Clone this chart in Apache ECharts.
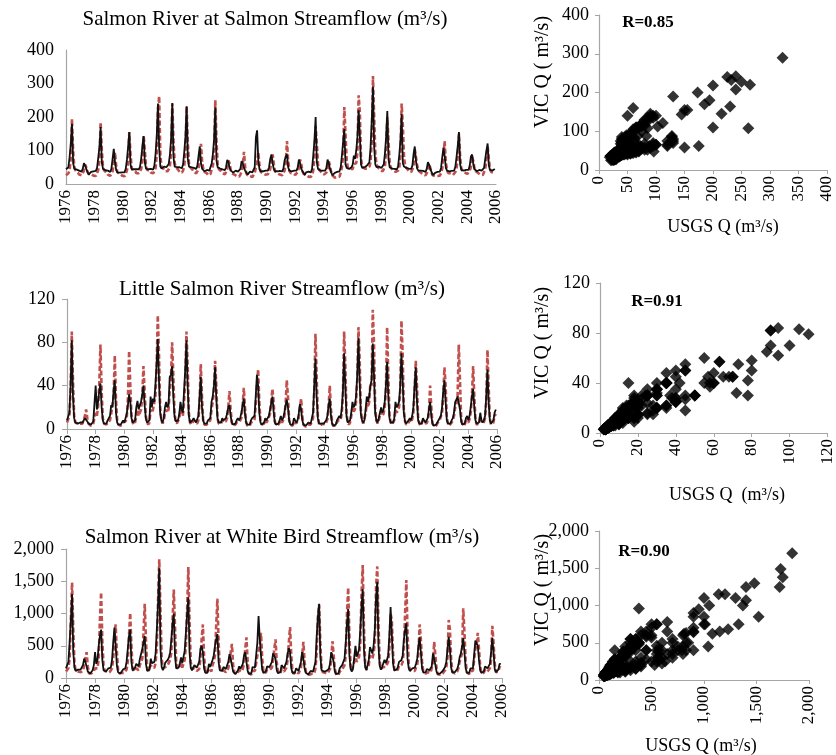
<!DOCTYPE html>
<html>
<head>
<meta charset="utf-8">
<script src="https://cdn.jsdelivr.net/npm/echarts/dist/echarts.min.js"></script>
<style>
  html, body { margin: 0; padding: 0; background: #fff; }
  #chart { width: 836px; height: 755px; }
</style>
</head>
<body>
<div id="chart"></div>
<script>
// Monthly streamflow, Jan 1976 - Dec 2005, one row per year (m3/s).
const START_YEAR = 1976;

// Salmon River at Salmon
const salmonVic = [
  44, 42, 50, 80, 120, 180, 62, 45, 42, 43, 42, 40,
  38, 37, 45, 62, 55, 45, 36, 28, 27, 36, 40, 38,
  40, 39, 48, 78, 110, 170, 65, 45, 40, 41, 42, 40,
  38, 36, 45, 75, 105, 65, 42, 35, 33, 34, 36, 35,
  36, 35, 45, 72, 110, 155, 58, 44, 40, 44, 46, 44,
  42, 44, 52, 78, 115, 143, 65, 46, 42, 44, 46, 45,
  44, 43, 55, 90, 145, 240, 108, 52, 46, 50, 52, 50,
  50, 52, 60, 88, 135, 242, 80, 52, 48, 50, 52, 50,
  48, 47, 58, 95, 140, 232, 75, 52, 48, 50, 50, 48,
  46, 45, 55, 85, 112, 62, 45, 40, 38, 40, 42, 40,
  40, 45, 62, 90, 135, 228, 70, 50, 45, 46, 45, 44,
  42, 41, 50, 72, 65, 48, 40, 36, 34, 38, 40, 39,
  37, 36, 45, 68, 62, 48, 40, 34, 28, 28, 37, 36,
  35, 36, 50, 140, 160, 70, 44, 38, 36, 38, 40, 40,
  40, 40, 50, 75, 88, 62, 44, 38, 36, 38, 40, 39,
  38, 38, 46, 70, 82, 88, 50, 40, 36, 38, 40, 40,
  39, 40, 50, 73, 60, 45, 38, 33, 27, 35, 38, 37,
  36, 35, 45, 85, 130, 200, 65, 45, 40, 40, 41, 40,
  40, 40, 48, 73, 62, 45, 35, 26, 25, 33, 36, 36,
  36, 38, 50, 85, 125, 164, 58, 48, 44, 45, 48, 50,
  58, 85, 75, 100, 140, 220, 145, 58, 48, 48, 50, 52,
  55, 56, 65, 110, 190, 290, 110, 58, 50, 50, 52, 50,
  48, 47, 58, 90, 140, 218, 75, 50, 45, 46, 46, 45,
  44, 44, 52, 85, 130, 208, 62, 52, 48, 48, 48, 46,
  45, 45, 55, 90, 112, 68, 46, 40, 38, 40, 40, 39,
  37, 36, 45, 65, 58, 45, 36, 27, 26, 33, 36, 36,
  36, 37, 48, 80, 108, 85, 48, 40, 36, 38, 40, 39,
  38, 40, 52, 82, 115, 155, 58, 42, 38, 40, 42, 42,
  40, 42, 55, 82, 88, 60, 44, 40, 38, 40, 42, 41,
  40, 39, 48, 75, 100, 121, 55, 42, 38, 40, 42, 45
];
const salmonUsgs = [
  26, 26, 32, 40, 75, 194, 95, 50, 40, 38, 34, 28,
  26, 26, 32, 40, 58, 50, 36, 30, 28, 30, 30, 25,
  24, 24, 32, 42, 70, 185, 100, 50, 40, 38, 34, 28,
  25, 24, 30, 38, 60, 95, 55, 35, 30, 30, 30, 25,
  24, 23, 30, 40, 65, 155, 90, 48, 40, 40, 38, 32,
  30, 32, 38, 45, 72, 145, 100, 52, 42, 42, 40, 34,
  32, 32, 38, 48, 90, 225, 262, 85, 52, 48, 44, 38,
  36, 38, 44, 52, 95, 240, 130, 62, 50, 46, 42, 36,
  34, 34, 40, 55, 90, 232, 120, 60, 50, 46, 42, 36,
  34, 32, 38, 46, 75, 120, 65, 44, 36, 34, 32, 26,
  26, 30, 45, 55, 85, 250, 130, 58, 44, 42, 38, 32,
  30, 29, 36, 45, 70, 62, 40, 32, 28, 28, 28, 24,
  22, 22, 28, 38, 55, 96, 50, 32, 26, 24, 24, 21,
  21, 22, 32, 50, 60, 95, 55, 36, 32, 32, 32, 28,
  28, 29, 36, 45, 68, 88, 60, 38, 33, 32, 32, 28,
  26, 26, 32, 40, 62, 128, 70, 40, 33, 32, 32, 28,
  27, 28, 36, 48, 73, 58, 38, 30, 26, 26, 26, 22,
  21, 21, 28, 40, 80, 173, 120, 58, 42, 38, 34, 30,
  28, 28, 34, 44, 68, 55, 36, 26, 21, 19, 21, 21,
  20, 22, 34, 50, 85, 230, 150, 70, 48, 44, 46, 42,
  44, 60, 58, 62, 95, 265, 215, 75, 52, 48, 46, 44,
  46, 48, 52, 65, 130, 322, 200, 90, 58, 50, 48, 42,
  38, 38, 44, 52, 100, 200, 130, 62, 48, 44, 41, 36,
  36, 36, 40, 48, 85, 240, 175, 80, 52, 48, 44, 38,
  36, 36, 44, 55, 103, 80, 55, 40, 36, 34, 32, 28,
  27, 26, 32, 40, 60, 48, 34, 26, 23, 24, 26, 24,
  24, 25, 32, 46, 85, 128, 65, 40, 33, 32, 31, 27,
  27, 28, 36, 48, 80, 150, 80, 46, 38, 36, 34, 30,
  30, 32, 40, 50, 83, 68, 46, 38, 34, 33, 32, 28,
  28, 27, 32, 44, 75, 112, 75, 44, 36, 34, 34, 34
];

// Little Salmon River
const littleVic = [
  8, 9, 15, 40, 82, 30, 10, 6, 5, 5, 6, 6,
  5, 6, 8, 10, 9, 7, 5, 4, 4, 5, 7, 8,
  40, 18, 25, 35, 42, 20, 8, 5, 4, 5, 8, 10,
  12, 22, 20, 35, 45, 15, 6, 4, 3, 4, 6, 8,
  6, 10, 14, 22, 32, 25, 10, 6, 5, 8, 20, 26,
  18, 22, 25, 32, 40, 22, 10, 6, 5, 8, 30, 20,
  28, 25, 40, 60, 83, 45, 15, 8, 6, 10, 20, 25,
  20, 22, 48, 50, 58, 30, 12, 7, 6, 8, 14, 25,
  18, 15, 35, 55, 82, 40, 12, 6, 5, 8, 10, 8,
  6, 7, 12, 30, 48, 20, 8, 5, 4, 5, 8, 8,
  10, 25, 30, 40, 57, 28, 10, 6, 5, 6, 10, 8,
  7, 10, 14, 20, 22, 12, 6, 4, 4, 5, 8, 10,
  8, 10, 15, 22, 28, 14, 6, 4, 3, 4, 8, 10,
  10, 12, 30, 50, 40, 15, 6, 4, 4, 6, 10, 8,
  10, 12, 18, 24, 30, 16, 6, 4, 4, 5, 8, 12,
  8, 10, 15, 22, 27, 20, 8, 4, 3, 4, 10, 8,
  6, 8, 14, 23, 18, 8, 4, 3, 3, 4, 6, 6,
  5, 6, 15, 40, 65, 30, 10, 5, 4, 5, 6, 5,
  5, 8, 12, 22, 28, 12, 5, 3, 3, 4, 8, 10,
  12, 10, 18, 35, 70, 40, 12, 6, 5, 8, 15, 25,
  20, 22, 30, 50, 84, 45, 14, 8, 6, 8, 18, 30,
  25, 30, 40, 45, 79, 50, 15, 8, 6, 10, 15, 20,
  15, 18, 25, 40, 62, 30, 10, 6, 5, 6, 10, 25,
  20, 22, 25, 40, 70, 45, 15, 7, 5, 6, 8, 10,
  8, 12, 20, 40, 57, 25, 8, 5, 4, 5, 10, 8,
  6, 7, 10, 18, 25, 12, 5, 3, 3, 4, 6, 7,
  10, 12, 20, 35, 45, 25, 8, 5, 4, 5, 8, 10,
  15, 25, 27, 30, 30, 18, 7, 4, 3, 5, 10, 12,
  8, 12, 20, 30, 37, 20, 8, 5, 4, 6, 15, 8,
  6, 8, 12, 30, 55, 25, 8, 5, 4, 8, 15, 18
];
const littleUsgs = [
  6, 7, 12, 35, 90, 45, 12, 6, 5, 5, 5, 5,
  4, 5, 6, 12, 18, 10, 5, 4, 3, 4, 5, 6,
  15, 12, 20, 40, 78, 35, 10, 5, 4, 4, 6, 7,
  8, 14, 15, 30, 68, 28, 8, 4, 3, 3, 4, 6,
  5, 7, 10, 28, 72, 40, 12, 6, 4, 6, 12, 18,
  12, 15, 18, 30, 58, 35, 12, 6, 4, 6, 18, 15,
  18, 18, 30, 55, 105, 70, 20, 8, 5, 8, 14, 18,
  15, 18, 35, 45, 80, 50, 15, 7, 5, 6, 10, 18,
  14, 12, 25, 45, 90, 60, 15, 6, 4, 6, 8, 6,
  5, 5, 8, 25, 60, 30, 8, 4, 3, 4, 6, 6,
  8, 18, 25, 35, 63, 40, 10, 5, 4, 5, 8, 6,
  5, 7, 10, 20, 35, 18, 6, 3, 3, 4, 6, 7,
  6, 7, 10, 20, 38, 20, 6, 3, 3, 3, 6, 7,
  7, 9, 22, 40, 55, 25, 7, 4, 3, 5, 8, 6,
  8, 9, 14, 25, 37, 25, 7, 4, 3, 4, 6, 9,
  6, 8, 12, 22, 45, 30, 8, 4, 3, 3, 7, 6,
  5, 6, 10, 20, 28, 12, 4, 3, 2, 3, 4, 4,
  4, 5, 10, 35, 88, 50, 12, 5, 3, 4, 5, 4,
  4, 6, 9, 20, 40, 18, 5, 3, 2, 3, 6, 8,
  9, 8, 14, 30, 90, 60, 15, 6, 4, 6, 12, 20,
  16, 18, 25, 45, 94, 65, 18, 8, 5, 6, 14, 24,
  20, 25, 42, 40, 110, 80, 20, 8, 5, 8, 12, 16,
  12, 14, 20, 35, 94, 50, 12, 6, 4, 5, 8, 18,
  15, 16, 20, 35, 100, 70, 18, 7, 4, 5, 6, 8,
  6, 9, 15, 35, 63, 40, 10, 5, 3, 4, 8, 6,
  5, 5, 8, 15, 40, 20, 5, 3, 2, 3, 5, 5,
  8, 9, 15, 30, 57, 40, 10, 5, 3, 4, 6, 8,
  12, 20, 22, 30, 78, 45, 10, 4, 3, 4, 8, 9,
  6, 9, 15, 30, 58, 30, 8, 4, 3, 5, 12, 6,
  5, 6, 10, 25, 73, 40, 10, 4, 3, 6, 12, 14
];

// Salmon River at White Bird
const whiteVic = [
  150, 160, 250, 550, 900, 1300, 400, 160, 110, 110, 130, 150,
  130, 130, 200, 300, 250, 180, 100, 75, 70, 80, 120, 200,
  400, 220, 280, 500, 650, 750, 280, 120, 90, 100, 130, 150,
  140, 160, 280, 550, 780, 500, 200, 90, 70, 70, 100, 130,
  120, 150, 250, 450, 650, 750, 250, 120, 100, 160, 220, 200,
  180, 300, 330, 450, 550, 650, 220, 110, 90, 130, 300, 230,
  200, 250, 380, 750, 1150, 1700, 450, 170, 120, 170, 240, 260,
  280, 320, 400, 600, 850, 1000, 350, 150, 120, 160, 230, 320,
  230, 260, 420, 700, 1000, 1250, 400, 160, 120, 150, 200, 180,
  160, 160, 250, 450, 500, 400, 150, 80, 70, 90, 220, 170,
  150, 280, 350, 500, 600, 680, 250, 120, 90, 110, 170, 150,
  140, 160, 250, 370, 300, 200, 100, 70, 60, 80, 120, 180,
  140, 160, 220, 350, 400, 250, 110, 65, 55, 70, 170, 160,
  160, 180, 550, 960, 600, 350, 130, 80, 70, 100, 180, 150,
  170, 180, 250, 380, 400, 300, 120, 75, 70, 90, 200, 220,
  150, 170, 250, 380, 460, 400, 150, 80, 70, 80, 150, 120,
  110, 130, 250, 400, 300, 150, 80, 60, 55, 70, 110, 100,
  100, 110, 250, 650, 950, 1150, 350, 120, 90, 100, 120, 110,
  110, 140, 220, 400, 400, 250, 100, 60, 55, 70, 150, 180,
  200, 180, 300, 550, 850, 1070, 350, 140, 100, 150, 320, 500,
  330, 380, 450, 750, 1100, 1380, 450, 170, 120, 150, 280, 480,
  430, 380, 500, 750, 1250, 1490, 500, 190, 130, 170, 230, 280,
  230, 280, 350, 650, 1100, 700, 230, 120, 100, 130, 170, 250,
  250, 280, 350, 600, 750, 850, 300, 150, 110, 120, 150, 170,
  160, 220, 300, 500, 630, 400, 150, 85, 70, 90, 140, 130,
  120, 120, 180, 380, 300, 200, 95, 60, 50, 70, 100, 110,
  140, 170, 250, 450, 640, 450, 160, 85, 70, 90, 120, 140,
  200, 320, 380, 480, 620, 400, 150, 80, 60, 80, 150, 170,
  150, 180, 580, 570, 500, 280, 120, 80, 70, 100, 180, 170,
  150, 160, 220, 400, 620, 400, 140, 90, 80, 130, 220, 220
];
const whiteUsgs = [
  100, 110, 150, 300, 900, 1480, 750, 220, 120, 100, 100, 100,
  90, 90, 110, 200, 300, 400, 180, 70, 65, 70, 80, 110,
  150, 130, 150, 300, 900, 1330, 580, 190, 110, 90, 100, 100,
  90, 100, 150, 300, 650, 830, 400, 120, 70, 65, 80, 90,
  80, 90, 130, 250, 650, 1010, 500, 160, 100, 110, 150, 140,
  120, 200, 250, 300, 700, 1150, 600, 180, 110, 100, 200, 160,
  140, 160, 230, 500, 1200, 1840, 1040, 300, 150, 140, 170, 180,
  200, 220, 280, 400, 900, 1370, 800, 240, 150, 130, 160, 230,
  160, 170, 280, 500, 1050, 1720, 900, 250, 140, 120, 150, 130,
  110, 100, 140, 300, 600, 830, 350, 110, 70, 70, 150, 120,
  100, 200, 250, 350, 800, 1230, 550, 170, 100, 90, 120, 100,
  90, 100, 150, 250, 400, 530, 200, 80, 55, 60, 80, 120,
  90, 100, 140, 230, 450, 630, 250, 80, 50, 50, 110, 100,
  110, 120, 350, 380, 500, 700, 300, 100, 70, 80, 130, 100,
  120, 130, 160, 280, 450, 600, 250, 90, 65, 70, 140, 160,
  100, 120, 160, 280, 550, 790, 350, 100, 65, 60, 100, 80,
  70, 90, 160, 350, 560, 250, 100, 60, 50, 50, 70, 65,
  60, 70, 150, 400, 950, 1140, 550, 150, 90, 80, 80, 70,
  70, 90, 140, 280, 570, 350, 140, 60, 50, 50, 100, 120,
  130, 120, 200, 350, 1000, 1400, 650, 190, 110, 120, 250, 380,
  250, 280, 330, 550, 1300, 1750, 800, 230, 130, 120, 200, 350,
  330, 300, 380, 550, 1400, 1730, 850, 260, 140, 140, 170, 200,
  170, 200, 250, 450, 1000, 900, 400, 150, 100, 100, 130, 190,
  180, 200, 250, 450, 1000, 1520, 700, 220, 120, 100, 110, 120,
  110, 160, 200, 380, 830, 600, 250, 100, 70, 70, 100, 90,
  80, 80, 100, 230, 560, 350, 140, 60, 45, 50, 65, 70,
  90, 120, 160, 320, 900, 750, 300, 100, 70, 70, 80, 100,
  150, 250, 280, 380, 1080, 700, 260, 90, 60, 60, 110, 120,
  110, 130, 450, 500, 700, 450, 180, 80, 60, 80, 130, 120,
  100, 110, 150, 280, 810, 550, 220, 90, 70, 100, 170, 160
];

const panelTitles = [
  'Salmon River at Salmon Streamflow (m³/s)',
  'Little Salmon River Streamflow (m³/s)',
  'Salmon River at White Bird Streamflow (m³/s)'
];
const rLabels = ['R=0.85', 'R=0.91', 'R=0.90'];
const scatterYName = 'VIC Q ( m³/s)';
const scatterXNames = ['USGS Q (m³/s)', 'USGS Q  (m³/s)', 'USGS Q (m³/s)'];

const FONT = '"Liberation Serif", "Times New Roman", serif';
const AXIS_GRAY = '#a6a6a6';
const RED = '#c0504d';
const BLACK = '#111111';

const toSeries = arr => arr.map((v, i) => [START_YEAR + i / 12, v]);
const toPairs = (usgs, vic) => usgs.map((u, i) => [u, vic[i]]);

const panels = [
  { vic: salmonVic, usgs: salmonUsgs, yMax: 400, yStep: 100, sMax: 400, sxStep: 50, syStep: 100, ticks: false },
  { vic: littleVic, usgs: littleUsgs, yMax: 120, yStep: 40, sMax: 120, sxStep: 20, syStep: 40, ticks: true },
  { vic: whiteVic, usgs: whiteUsgs, yMax: 2000, yStep: 500, sMax: 2000, sxStep: 500, syStep: 500, ticks: true }
];

const grids = [
  { left: 66, top: 50, width: 430, height: 134 },
  { left: 67, top: 299, width: 430, height: 130 },
  { left: 66, top: 549, width: 436, height: 129 },
  { left: 599, top: 15, width: 228, height: 155 },
  { left: 600, top: 283, width: 232, height: 150 },
  { left: 599, top: 531, width: 210, height: 149 }
];

const xAxes = [], yAxes = [], series = [];

panels.forEach((p, k) => {
  const tick = { show: p.ticks, length: 5, lineStyle: { color: AXIS_GRAY } };
  xAxes.push({
    type: 'value', gridIndex: k, min: 1976, max: 2006, interval: 2,
    axisLine: { show: true, lineStyle: { color: AXIS_GRAY, width: 1.2 } },
    axisTick: tick, splitLine: { show: false },
    axisLabel: { rotate: 90, margin: 6, fontFamily: FONT, fontSize: 17, color: '#000', formatter: v => String(v) }
  });
  yAxes.push({
    type: 'value', gridIndex: k, min: 0, max: p.yMax, interval: p.yStep,
    axisLine: { show: true, lineStyle: { color: AXIS_GRAY, width: 1.2 } },
    axisTick: tick, splitLine: { show: false },
    axisLabel: { margin: 12, padding: [5, 0, 0, 0], fontFamily: FONT, fontSize: 18, color: '#000' }
  });
  series.push({
    type: 'line', xAxisIndex: k, yAxisIndex: k, data: toSeries(p.usgs),
    showSymbol: false, symbol: 'none', z: 2,
    lineStyle: { color: RED, width: 2.6, type: [5, 2.5] }
  });
  series.push({
    type: 'line', xAxisIndex: k, yAxisIndex: k, data: toSeries(p.vic),
    showSymbol: false, symbol: 'none', z: 3,
    lineStyle: { color: BLACK, width: 1.8 }
  });
});

panels.forEach((p, k) => {
  const g = k + 3;
  const tick = { show: true, length: 4, lineStyle: { color: AXIS_GRAY } };
  xAxes.push({
    type: 'value', gridIndex: g, min: 0, max: p.sMax, interval: p.sxStep,
    axisLine: { show: true, lineStyle: { color: AXIS_GRAY, width: 1.2 } },
    axisTick: tick, splitLine: { show: false },
    axisLabel: { rotate: 90, margin: 6, fontFamily: FONT, fontSize: 17, color: '#000' }
  });
  yAxes.push({
    type: 'value', gridIndex: g, min: 0, max: p.sMax, interval: p.syStep,
    axisLine: { show: true, lineStyle: { color: AXIS_GRAY, width: 1.2 } },
    axisTick: tick, splitLine: { show: false },
    axisLabel: { margin: 10, fontFamily: FONT, fontSize: 18, color: '#000' }
  });
  series.push({
    type: 'scatter', xAxisIndex: g, yAxisIndex: g, data: toPairs(p.usgs, p.vic),
    symbol: 'diamond', symbolSize: 12,
    itemStyle: { color: '#000' }
  });
});

function label(text, x, y, size, opts) {
  opts = opts || {};
  return {
    type: 'text', x: x, y: y, rotation: opts.rotation || 0, z: 10,
    style: {
      text: text, x: 0, y: 0, fill: '#000',
      font: (opts.bold ? 'bold ' : '') + size + 'px ' + FONT,
      textAlign: 'center', textVerticalAlign: 'middle'
    }
  };
}

const graphic = [
  label(panelTitles[0], 265, 19, 21),
  label(panelTitles[1], 282, 289, 21),
  label(panelTitles[2], 282, 537, 21),
  label(rLabels[0], 648, 23, 17, { bold: true }),
  label(rLabels[1], 657, 302, 17, { bold: true }),
  label(rLabels[2], 644, 552, 17, { bold: true }),
  label(scatterYName, 543, 72, 20, { rotation: Math.PI / 2 }),
  label(scatterYName, 543, 343, 20, { rotation: Math.PI / 2 }),
  label(scatterYName, 543, 590, 20, { rotation: Math.PI / 2 }),
  label(scatterXNames[0], 723, 227, 18),
  label(scatterXNames[1], 727, 495, 18),
  label(scatterXNames[2], 701, 746, 18)
];

const chart = echarts.init(document.getElementById('chart'), null, { renderer: 'canvas' });
chart.setOption({
  animation: false,
  backgroundColor: '#fff',
  grid: grids,
  xAxis: xAxes,
  yAxis: yAxes,
  series: series,
  graphic: graphic
});
</script>
</body>
</html>
